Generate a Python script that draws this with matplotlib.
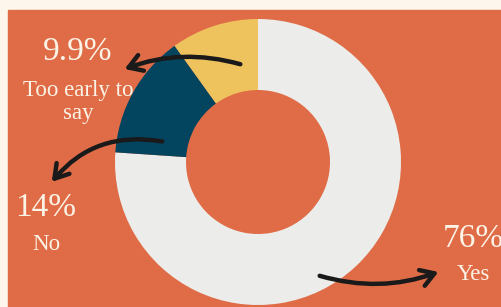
import matplotlib.pyplot as plt
from matplotlib.patches import Rectangle, FancyArrowPatch

# survey answers
labels = ["Yes", "No", "Too early to\nsay"]
shares = [76, 14, 9.9]
share_text = ["76%", "14%", "9.9%"]
colors = ["#ECECEA", "#03445F", "#EEC35E"]

W, H = 501, 307
fig = plt.figure(figsize=(W / 100, H / 100), dpi=100)
fig.patch.set_facecolor("#FDF6EC")
ax = fig.add_axes([0, 0, 1, 1])

# orange panel
ax.add_patch(Rectangle((8, 0), W - 8, H - 10, color="#E06C47", zorder=0))

ax.pie(shares, colors=colors, startangle=90, counterclock=False,
       center=(258, 145), radius=143,
       wedgeprops=dict(width=71, linewidth=0))

ax.set_xlim(0, W)
ax.set_ylim(0, H)
ax.set_aspect("auto")
ax.set_axis_off()

txt = "#FBF3E6"
font = "Liberation Serif"
# label positions (x, y of percentage, y of label)
pos = [(473, 68, 32), (46, 99, 62), (78, 255, 205)]
for (x, yp, yl), p, lab in zip(pos, share_text, labels):
    ax.text(x, yp, p, color=txt, fontsize=24, family=font,
            ha="center", va="center")
    ax.text(x, yl, lab, color=txt, fontsize=16.5, family=font,
            ha="center", va="center", linespacing=1.15)

# hand drawn arrows
arrows = [((317, 32), (441, 36), 0.17),
          ((165, 165), (50, 123), 0.3),
          ((243, 242), (122, 237), 0.17)]
for a, b, rad in arrows:
    ax.add_patch(FancyArrowPatch(a, b, connectionstyle=f"arc3,rad={rad}",
                                 arrowstyle="->,head_length=0.8,head_width=0.5",
                                 mutation_scale=12, lw=3.2, color="#1A1A1A",
                                 capstyle="round", joinstyle="round"))

fig.savefig("out.png", dpi=100, facecolor=fig.get_facecolor())
